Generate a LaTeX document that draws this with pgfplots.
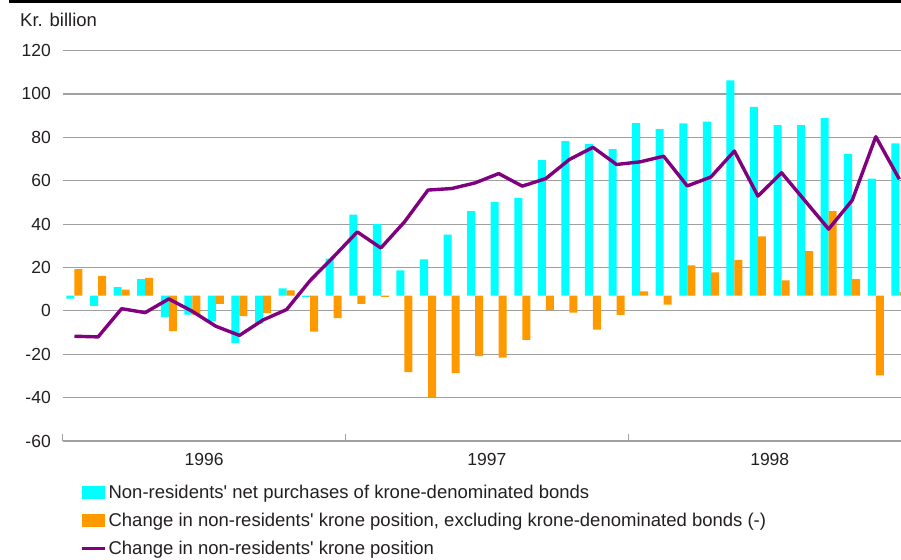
\documentclass[border=0pt]{standalone}
\usepackage{pgfplots}
\usepackage{pgfplotstable}
\pgfplotsset{compat=1.18}
\usepackage{fontspec}
\setmainfont{Liberation Sans}
\definecolor{barcyan}{HTML}{00FFFF}
\definecolor{barorange}{HTML}{FF9900}
\definecolor{linepurple}{HTML}{800080}
\definecolor{gridgray}{HTML}{A0A0A0}
\definecolor{txt}{HTML}{231F20}
\pgfplotstableread{
m cyan orange line
1 5.7 19.2 -11.7
2 2.3 16.1 -12.0
3 11.0 9.8 1.0
4 14.6 15.2 -0.8
5 -2.8 -9.3 5.5
6 -1.7 -2.0 -0.2
7 -4.7 3.2 -7.1
8 -14.8 -2.4 -11.3
9 -5.9 -1.0 -4.2
10 10.4 9.5 0.6
11 6.4 -9.6 14.0
12 24.1 -3.4 25.0
13 44.4 3.2 36.4
14 40.0 6.4 29.0
15 18.7 -28.3 41.0
16 23.7 -39.7 55.7
17 35.2 -28.7 56.4
18 46.0 -20.9 59.0
19 50.1 -21.6 63.3
20 52.1 -13.4 57.5
21 69.5 0.3 61.0
22 78.3 -0.8 69.8
23 77.0 -8.6 75.4
24 74.6 -1.9 67.5
25 86.6 9.0 68.7
26 83.8 2.9 71.3
27 86.4 21.0 57.6
28 87.3 17.8 61.7
29 106.3 23.5 73.7
30 94.0 34.3 52.9
31 85.6 14.1 63.7
32 85.6 27.6 50.7
33 88.9 46.0 37.7
34 72.3 14.6 51.0
35 61.0 -29.7 80.3
36 77.2 8.6 60.7
}\data
\begin{document}
\begin{tikzpicture}[x=1pt,y=1pt]
\begin{axis}[name=ax, at={(62.7pt,118pt)}, anchor=south west,
  scale only axis, width=838.3pt, height=390.4pt,
  xmin=0.5, xmax=36.07, ymin=-60, ymax=120,
  y coord trafo/.code={\pgfmathparse{#1-7}},
  y coord inv trafo/.code={\pgfmathparse{#1+7}},
  ytick={-60,-40,-20,0,20,40,60,80,100,120},
  yticklabels={-60,-40,-20,0,20,40,60,80,100,120},
  ymajorgrids, grid style={gridgray, line width=1.1pt},
  axis line style={draw=none},
  tick pos=left,
  ytick style={draw=none},
  xtick={6.5,18.5,30.5}, xticklabels={1996,1997,1998},
  xtick style={draw=none},
  extra x ticks={0.5,12.5,24.5}, extra x tick labels={},
  extra x tick style={xtick style={draw=gridgray, line width=1.1pt}, major tick length=6.5pt, tick align=inside},
  tick label style={font=\fontsize{17.5}{20}\selectfont, text=txt},
  yticklabel style={anchor=east, xshift=-8.4pt},
  xticklabel style={yshift=-9pt},
  legend style={at={(rel axis cs:0,0)}, anchor=north west, xshift=17pt, yshift=-42pt,
    draw=none, fill=none, font=\fontsize{18.5}{21}\selectfont, text=txt,
    inner sep=0pt, row sep=9pt, legend cell align=left},
]
\addplot[ybar, bar width=8pt, bar shift=-4pt, fill=barcyan, draw=none,
  legend image code/.code={\fill[barcyan] (0pt,-6.2pt) rectangle (23.3pt,6.2pt);}]
  table[x=m, y=cyan]{\data};
\addlegendentry{Non-residents\textquotesingle{} net purchases of krone-denominated bonds}
\addplot[ybar, bar width=8pt, bar shift=4pt, fill=barorange, draw=none,
  legend image code/.code={\fill[barorange] (0pt,-6.2pt) rectangle (23.3pt,6.2pt);}]
  table[x=m, y=orange]{\data};
\addlegendentry{Change in non-residents\textquotesingle{} krone position, excluding krone-denominated bonds (-)}
\addplot[linepurple, line width=3.4pt, line join=round, mark=none,
  legend image code/.code={\draw[linepurple, line width=3.4pt] (0pt,0pt) -- (23.3pt,0pt);}]
  table[x=m, y=line]{\data};
\addlegendentry{Change in non-residents\textquotesingle{} krone position}
\end{axis}
\node[anchor=base west, inner sep=0pt, font=\fontsize{18.5}{21}\selectfont, text=txt] at (20,532.3) {Kr. billion};
\fill[black] (9,556.3) rectangle (901,559);
\pgfresetboundingbox
\path[use as bounding box] (0,0) rectangle (901,559);
\end{tikzpicture}
\end{document}
